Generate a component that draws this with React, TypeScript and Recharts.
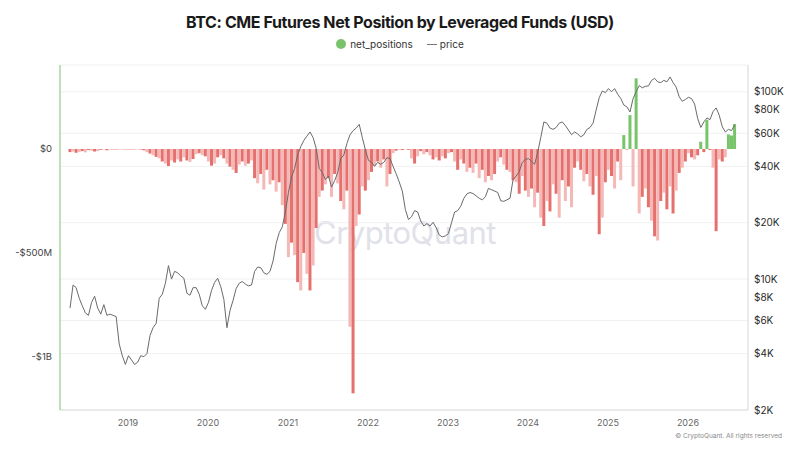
import React from "react";
import {
  Bar,
  CartesianGrid,
  Cell,
  ComposedChart,
  Line,
  XAxis,
  YAxis,
} from "recharts";

// biweekly samples, first one in early April 2018
const START_YEAR = 2018.275;
const STEP_YEARS = 1 / 26;

// BTC price (USD)
const price = [
  7000, 9300, 9000, 7900, 7200, 6600, 6400, 7500, 8100, 7000,
  6500, 7300, 6400, 6500, 6400, 6300, 4500, 3900, 3500, 3900,
  3700, 3500, 3600, 3900, 3850, 4000, 5000, 5500, 5800, 7900,
  8300, 9500, 11800, 10000, 11000, 10800, 10400, 10100, 8400, 8200,
  9000, 9000, 8300, 7200, 6900, 7500, 8700, 9600, 10100, 9100,
  7800, 5500, 6800, 7700, 8900, 9500, 9700, 9400, 9200, 9300,
  11000, 11600, 11500, 10800, 10600, 11000, 12500, 15500, 17700, 19000,
  22800, 29000, 35000, 39000, 46000, 51000, 55000, 58000, 61000, 57000,
  50000, 39000, 37000, 34000, 35500, 31000, 33500, 37000, 44000, 46000,
  53000, 59000, 62000, 64000, 67000, 57000, 49000, 43000, 42000, 40000,
  42000, 41000, 42000, 44500, 44000, 40000, 36500, 33000, 29500, 23500,
  20800, 21500, 23200, 22800, 20400, 19200, 19800, 19200, 20100, 18800,
  17200, 16800, 17000, 17500, 20000, 22800, 23200, 24500, 27000, 28500,
  29000, 28600, 27800, 27000, 26500, 27500, 30500, 30000, 29500, 29000,
  26200, 26000, 26500, 27000, 34000, 35500, 37500, 42000, 43500, 44000,
  42500, 41000, 47500, 57000, 69000, 68000, 64000, 63000, 64500, 68000,
  69000, 66000, 62500, 59000, 61000, 59500, 57500, 59000, 63000, 64500,
  68000, 80000, 93000, 101000, 99000, 104000, 100000, 104000, 97000, 92000,
  85000, 83000, 78000, 92000, 100000, 108000, 105000, 107000, 107500, 115000,
  118000, 113000, 112000, 115000, 113000, 120000, 112000, 106000, 94000, 89000,
  91000, 93500, 92000, 86000, 72000, 64500, 69000, 72500, 71000, 78500,
  82000, 75000, 65000, 61000, 63000, 62000, 66500,
];

// leveraged funds net position, millions of USD
const netPositions = [
  -15, -12, -18, -14, -10, -16, -5, -8, -12, -10,
  -4, -2, -6, -3, -2, -5, -1, -3, -2, -4,
  -2, -3, -1, -5, -6, -15, -22, -30, -38, -45,
  -60, -70, -82, -55, -65, -50, -60, -40, -55, -62,
  -48, -25, -20, -30, -35, -60, -80, -70, -40, -30,
  -45, -70, -85, -100, -115, -75, -60, -80, -70, -55,
  -140, -165, -120, -195, -100, -170, -150, -205, -160, -270,
  -360, -520, -450, -510, -640, -680, -500, -600, -680, -560,
  -380, -230, -200, -170, -140, -230, -120, -165, -250, -290,
  -200, -855, -1175, -370, -315, -180, -200, -150, -110, -80,
  -60, -90, -50, -180, -120, -20, -8, -3, -5, -2,
  -4, -45, -70, -35, -10, -25, -15, -30, -50, -40,
  -55, -35, -45, -20, -15, -60, -100, -50, -70, -110,
  -90, -115, -70, -140, -100, -160, -130, -150, -120, -60,
  -40, -75, -100, -110, -150, -160, -215, -130, -200, -230,
  -190, -280, -210, -330, -370, -250, -300, -170, -215, -330,
  -150, -250, -180, -280, -90, -60, -100, -155, -120, -180,
  -220, -130, -410, -330, -160, -100, -130, -190, -60, -150,
  67, -5, 163, -180, 340, -310, -230, -190, -280, -345,
  -420, -440, -250, -210, -290, -180, -310, -200, -115, -90,
  -60, -20, -40, -50, -30, 35, -15, 140, -5, -90,
  -395, -50, -60, -40, 70, 65, 120,
];

const yearTicks = [2019, 2020, 2021, 2022, 2023, 2024, 2025, 2026];
const netTicks = [-1000, -500, 0];
const priceTicks = [2000, 4000, 6000, 8000, 10000, 20000, 40000, 60000, 80000, 100000];

const data = price.map((p, i) => ({
  t: START_YEAR + i * STEP_YEARS,
  price: p,
  net: netPositions[i],
}));

const FONT = "Inter, 'Noto Sans', sans-serif";
const GREEN = "#79c46a";

const netLabel = (v: number) => {
  if (v === 0) return "$0";
  if (v <= -1000) return `-$${-v / 1000}B`;
  return `-$${-v}M`;
};

export default function App() {
  return (
    <div
      style={{
        position: "absolute",
        left: 0,
        top: 0,
        width: 800,
        height: 450,
        background: "#fff",
        fontFamily: FONT,
        overflow: "hidden",
      }}
    >
      <div
        style={{
          position: "absolute",
          top: 12,
          width: 800,
          textAlign: "center",
          fontSize: 16,
          fontWeight: 700,
          color: "#1a1a1a",
          letterSpacing: -0.4,
        }}
      >
        BTC: CME Futures Net Position by Leveraged Funds (USD)
      </div>
      <div
        style={{
          position: "absolute",
          top: 38,
          width: 800,
          display: "flex",
          justifyContent: "center",
          gap: 14,
          fontSize: 10,
          color: "#333",
        }}
      >
        <span style={{ display: "flex", alignItems: "center", gap: 4 }}>
          <span
            style={{ width: 10, height: 10, borderRadius: "50%", background: GREEN, display: "inline-block" }}
          />
          net_positions
        </span>
        <span style={{ display: "flex", alignItems: "center", gap: 3 }}>
          <span style={{ width: 10, height: 1, background: "#777", display: "inline-block" }} />
          price
        </span>
      </div>
      {/* watermark sits under the chart */}
      <div
        style={{
          position: "absolute",
          left: 300,
          top: 214,
          width: 210,
          textAlign: "center",
          fontSize: 31,
          color: "#e1e1e9",
          letterSpacing: -0.5,
        }}
      >
        CryptoQuant
      </div>
      <div style={{ position: "absolute", left: 0, top: 0 }}>
        <ComposedChart
          width={800}
          height={450}
          data={data}
          margin={{ top: 65, right: 0, bottom: 20, left: 0 }}
        >
          <CartesianGrid yAxisId="price" vertical={false} stroke="#f1f1f1" />
          <XAxis
            type="number"
            dataKey="t"
            domain={[2018.15, 2026.75]}
            ticks={yearTicks}
            allowDataOverflow
            height={20}
            tickLine={false}
            axisLine={{ stroke: "#dcdcdc" }}
            tickMargin={4}
            tick={{ fontSize: 9, fill: "#666", fontFamily: FONT }}
          />
          <YAxis
            yAxisId="net"
            orientation="left"
            width={60}
            domain={[-1255, 404]}
            ticks={netTicks}
            allowDataOverflow
            tickFormatter={netLabel}
            tickLine={false}
            axisLine={{ stroke: GREEN }}
            tickMargin={2}
            tick={{ fontSize: 9.5, fill: "#444", fontFamily: FONT }}
          />
          <YAxis
            yAxisId="price"
            orientation="right"
            width={52}
            scale="log"
            domain={[2000, 139000]}
            ticks={priceTicks}
            allowDataOverflow
            tickFormatter={(v) => `$${v / 1000}K`}
            tickLine={false}
            axisLine={{ stroke: "#d6d6d6" }}
            tickMargin={0}
            tick={{ fontSize: 10, fill: "#2a2a2a", fontFamily: FONT }}
          />
          <Bar yAxisId="net" dataKey="net" barSize={3} isAnimationActive={false}>
            {data.map((d, i) => (
              <Cell
                key={i}
                fill={d.net >= 0 ? GREEN : i % 2 === 0 ? "#e5706d" : "#f4b9b7"}
              />
            ))}
          </Bar>
          <Line
            yAxisId="price"
            dataKey="price"
            type="linear"
            stroke="#6a6a6a"
            strokeWidth={1}
            dot={false}
            isAnimationActive={false}
          />
        </ComposedChart>
      </div>
      <div
        style={{
          position: "absolute",
          right: 18,
          top: 432,
          fontSize: 6.5,
          color: "#888",
        }}
      >
        © CryptoQuant. All rights reserved
      </div>
    </div>
  );
}
